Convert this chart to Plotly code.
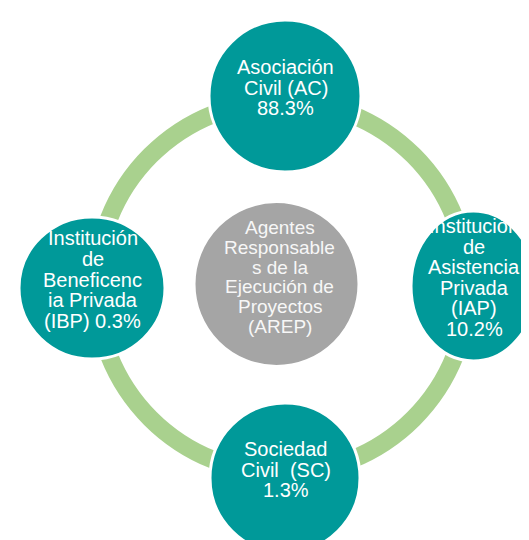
import plotly.graph_objects as go

# ---- data ----
categories = [
    "Asociación Civil (AC)",
    "Institución de Asistencia Privada (IAP)",
    "Sociedad Civil  (SC)",
    "Institución de Beneficencia Privada (IBP)",
]
percentages = [88.3, 10.2, 1.3, 0.3]
center_label = "Agentes Responsables de la Ejecución de Proyectos (AREP)"

# wrapped lines as they appear in the diagram ({pct} -> percentage)
label_lines = [
    ["Asociación", "Civil (AC)", "{pct}"],
    ["Institución", "de", "Asistencia", "Privada", "(IAP)", "{pct}"],
    ["Sociedad", "Civil\u00a0 (SC)", "{pct}"],
    ["Institución", "de", "Beneficenc", "ia Privada", "(IBP) {pct}"],
]
center_lines = ["Agentes", "Responsable", "s de la", "Ejecución de", "Proyectos", "(AREP)"]

# ---- layout geometry (pixel space) ----
W, H = 529, 540
ring = dict(cx=274, cy=279, r=186, width=18)
# node boxes: (cx, cy, rx, ry)
nodes = [
    (277, 88, 76, 76),
    (465.5, 278, 62.5, 75),
    (277, 470, 75, 75),
    (84, 280, 73, 71),
]
center_node = (268.5, 276, 82, 82)
TEXT_DY = -8.5

TEAL = "#009999"
GREEN = "#A9D18E"
GRAY = "#A5A5A5"
FONT = "Liberation Sans, Arial, sans-serif"

fig = go.Figure()
shapes = []
shapes.append(dict(type="circle", xref="x", yref="y",
                   x0=ring["cx"] - ring["r"], x1=ring["cx"] + ring["r"],
                   y0=ring["cy"] - ring["r"], y1=ring["cy"] + ring["r"],
                   line=dict(color=GREEN, width=ring["width"]), fillcolor="rgba(0,0,0,0)",
                   layer="below"))
cx, cy, rx, ry = center_node
shapes.append(dict(type="circle", xref="x", yref="y", x0=cx - rx, x1=cx + rx, y0=cy - ry, y1=cy + ry,
                   fillcolor=GRAY, line=dict(color="white", width=2), layer="below"))
for (cx, cy, rx, ry) in nodes:
    shapes.append(dict(type="circle", xref="x", yref="y", x0=cx - rx, x1=cx + rx, y0=cy - ry, y1=cy + ry,
                       fillcolor=TEAL, line=dict(color="white", width=3), layer="below"))

annotations = []
def add_lines(lines, cx, cy, size, lh, color="white"):
    n = len(lines)
    for i, t in enumerate(lines):
        annotations.append(dict(x=cx, y=cy + TEXT_DY + (i - (n - 1) / 2) * lh, xref="x", yref="y",
                                text=t, showarrow=False, xanchor="center", yanchor="middle",
                                font=dict(family=FONT, size=size, color=color)))

for lines, pct, (cx, cy, rx, ry) in zip(label_lines, percentages, nodes):
    add_lines([l.replace("{pct}", f"{pct:.1f}%") for l in lines], cx + 0.5, cy, 20, 20.6)
add_lines(center_lines, 271.5, 277.5, 19, 19.8, color="#F7F7F7")

# invisible trace to establish axes
fig.add_trace(go.Scatter(x=[0, W], y=[0, H], mode="markers", marker=dict(opacity=0),
                         hoverinfo="skip", showlegend=False))

fig.update_layout(width=W, height=H, margin=dict(l=0, r=0, t=0, b=0),
                  paper_bgcolor="white", plot_bgcolor="white",
                  shapes=shapes, annotations=annotations, showlegend=False,
                  xaxis=dict(range=[0, W], visible=False, fixedrange=True),
                  yaxis=dict(range=[H, 0], visible=False, fixedrange=True))
fig.write_html("out.html")
